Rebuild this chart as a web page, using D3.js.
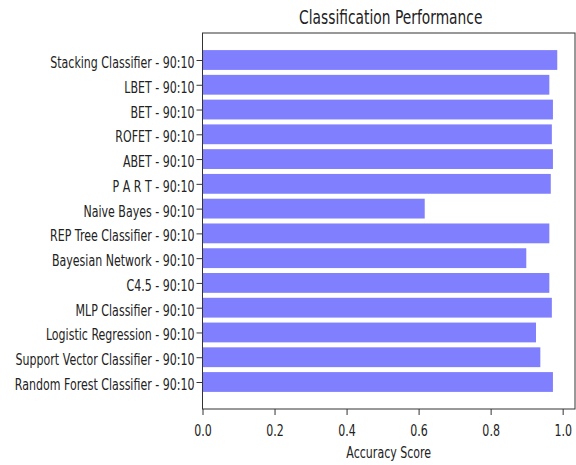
<!DOCTYPE html>
<html>
<head>
<meta charset="utf-8">
<script src="https://cdn.jsdelivr.net/npm/d3@7"></script>
<style>
  body { margin: 0; background: #fff; }
  text { font-family: "DejaVu Sans", sans-serif; fill: #222; }
</style>
</head>
<body>
<div id="chart"></div>
<script>
// classifiers, bottom to top
const models = [
  'Random Forest Classifier - 90:10',
  'Support Vector Classifier - 90:10',
  'Logistic Regression - 90:10',
  'MLP Classifier - 90:10',
  'C4.5 - 90:10',
  'Bayesian Network - 90:10',
  'REP Tree Classifier - 90:10',
  'Naive Bayes - 90:10',
  'P A R T - 90:10',
  'ABET - 90:10',
  'ROFET - 90:10',
  'BET - 90:10',
  'LBET - 90:10',
  'Stacking Classifier - 90:10'
];
const accuracy = [0.973, 0.938, 0.926, 0.970, 0.963, 0.899, 0.963, 0.617, 0.967, 0.973, 0.970, 0.973, 0.963, 0.985];
const xTicks = [0, 0.2, 0.4, 0.6, 0.8, 1.0];

const W = 576, H = 465;
const margin = { top: 33, right: 1, bottom: 56, left: 202.5 };
const w = W - margin.left - margin.right;
const h = H - margin.top - margin.bottom;
const SX = 0.69; // glyphs are squeezed horizontally in the reference
const FS = 16;

const svg = d3.select('#chart').append('svg')
  .attr('width', W).attr('height', H);
const g = svg.append('g')
  .attr('transform', `translate(${margin.left},${margin.top})`);

const xMax = d3.max(accuracy) * 1.05;
const x = d3.scaleLinear().domain([0, xMax]).range([0, w]);
const n = models.length;
const pad = 0.05 * (n - 1 + 0.8);
const y = d3.scaleLinear().domain([-0.4 - pad, n - 1 + 0.4 + pad]).range([h, 0]);
const barH = y(0) - y(0.8);

// bars
g.selectAll('.bar')
  .data(accuracy)
  .join('rect')
  .attr('class', 'bar')
  .attr('x', x(0))
  .attr('y', (d, i) => y(i + 0.4))
  .attr('width', d => x(d) - x(0))
  .attr('height', barH)
  .attr('fill', '#8080ff');

// x axis
const xa = g.append('g')
  .attr('transform', `translate(0,${h})`)
  .call(d3.axisBottom(x).tickValues(xTicks).tickFormat(d3.format('.1f')).tickSize(6).tickSizeOuter(0));
xa.selectAll('text')
  .attr('y', null).attr('dy', null)
  .attr('transform', `translate(0,27) scale(${SX},1)`)
  .attr('font-size', FS);

// y axis
const ya = g.append('g')
  .call(d3.axisLeft(y).tickValues(d3.range(n)).tickFormat(i => models[i]).tickSize(6).tickSizeOuter(0));
ya.selectAll('text')
  .attr('x', null).attr('dy', null)
  .attr('transform', `translate(-8,7.5) scale(${SX},1)`)
  .attr('font-size', FS);

[xa, ya].forEach(a => {
  a.select('.domain').remove();
  a.selectAll('line').attr('stroke', '#333');
  a.selectAll('text').attr('fill', '#222').attr('font-family', '"DejaVu Sans", sans-serif');
});

// frame
g.append('rect')
  .attr('x', 0).attr('y', 0)
  .attr('width', w).attr('height', h)
  .attr('fill', 'none')
  .attr('stroke', '#333').attr('stroke-width', 1);

// title + label
g.append('text')
  .attr('text-anchor', 'middle')
  .attr('transform', `translate(${w / 2 + 2},-9) scale(0.72,1)`)
  .attr('font-size', 19.2)
  .text('Classification Performance');

g.append('text')
  .attr('text-anchor', 'middle')
  .attr('transform', `translate(${w / 2},${h + 49}) scale(${SX},1)`)
  .attr('font-size', FS)
  .text('Accuracy Score');
</script>
</body>
</html>
